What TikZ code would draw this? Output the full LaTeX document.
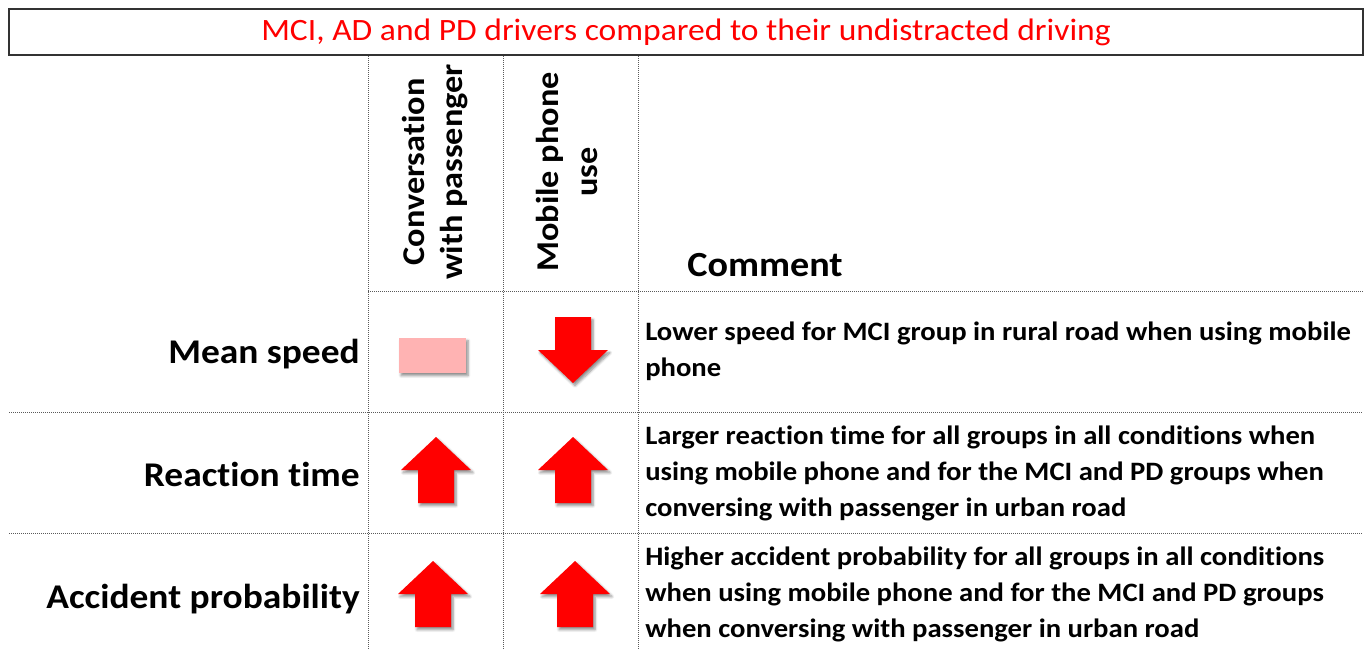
\documentclass[tikz,border=0pt]{standalone}
\usepackage{fontspec}
\setmainfont{Carlito}[Ligatures=NoCommon, FakeStretch=1.08]
\usetikzlibrary{shadows.blur}
\definecolor{pinkbox}{RGB}{255,179,179}
\definecolor{framegray}{RGB}{50,50,50}
\definecolor{dotgray}{RGB}{90,90,90}

\begin{document}
\begin{tikzpicture}[x=0.75pt,y=0.75pt,yscale=-1,xscale=1,
	gridline/.style={draw=dotgray, line width=0.75pt, dash pattern={on 0.75pt off 0.75pt}},
	rowlabel/.style={anchor=base east, inner sep=0.75pt, font=\bfseries\fontsize{26}{31}\selectfont},
	colhead/.style={rotate=90, align=center, inner sep=0.75pt, font=\bfseries\fontsize{23.8}{29}\selectfont},
	comment/.style={anchor=north west, align=left, inner sep=0.75pt, font=\bfseries\fontsize{19.9}{27}\selectfont},
	arrshadow/.style={blur shadow={shadow xshift=1.5pt, shadow yshift=-2pt, shadow opacity=45, shadow blur steps=6}},
	uparr/.pic={\fill[red, arrshadow] (0,33) -- (35,0) -- (18,0) -- (18,-33) -- (-18,-33) -- (-18,0) -- (-35,0) -- cycle;},
	downarr/.pic={\fill[red, arrshadow] (0,-33) -- (35,0) -- (18,0) -- (18,33) -- (-18,33) -- (-18,0) -- (-35,0) -- cycle;}
	]
	\useasboundingbox (0,0) rectangle (1370,650);
	
	%Shape: Rectangle [id:title box]
	\draw [framegray, line width=1.5pt] (9,9) rectangle (1363,55);
	% Text Node
	\node [red, inner sep=0.75pt, font=\fontsize{23.3}{28}\selectfont] (title) at (686,32) {MCI, AD and PD drivers compared to their undistracted driving};
	
	%Straight Lines [id:grid columns]
	\draw [gridline] (368,56) -- (368,650);
	\draw [gridline] (503,56) -- (503,650);
	\draw [gridline] (638,56) -- (638,650);
	%Straight Lines [id:grid rows]
	\draw [gridline] (368,291) -- (1363,291);
	\draw [gridline] (9,412) -- (1363,412);
	\draw [gridline] (9,533) -- (1363,533);
	
	% Text Node
	\node [colhead] (conv) at (435,172) {Conversation\\with passenger};
	% Text Node
	\node [colhead] (mobile) at (567,172) {Mobile phone\\use};
	% Text Node
	\node [inner sep=0.75pt, font=\bfseries\fontsize{26.5}{32}\selectfont] (comm) at (765,265) {Comment};
	
	% Text Node
	\node [rowlabel] (speed) at (361,363) {Mean speed};
	% Text Node
	\node [rowlabel] (react) at (361,486) {Reaction time};
	% Text Node
	\node [rowlabel] (accid) at (361,608) {Accident probability};
	
	%Shape: Rectangle [id:no change]
	\fill [pinkbox, arrshadow] (399,338) rectangle (466,373);
	%Shape: Arrows
	\pic (spdmob) at (573,350) {downarr};
	\pic (rtconv) at (436,470) {uparr};
	\pic (rtmob) at (573,470) {uparr};
	\pic (apconv) at (433,594) {uparr};
	\pic (apmob) at (575,594) {uparr};
	
	% Text Node
	\node [comment] (cspeed) at (644,321) {Lower speed for MCI group in rural road when using mobile\\phone};
	% Text Node
	\node [comment] (creact) at (644,425) {Larger reaction time for all groups in all conditions when\\using mobile phone and for the MCI and PD groups when\\conversing with passenger in urban road};
	% Text Node
	\node [comment] (caccid) at (644,546) {Higher accident probability for all groups in all conditions\\when using mobile phone and for the MCI and PD groups\\when conversing with passenger in urban road};
	
\end{tikzpicture}
\end{document}
